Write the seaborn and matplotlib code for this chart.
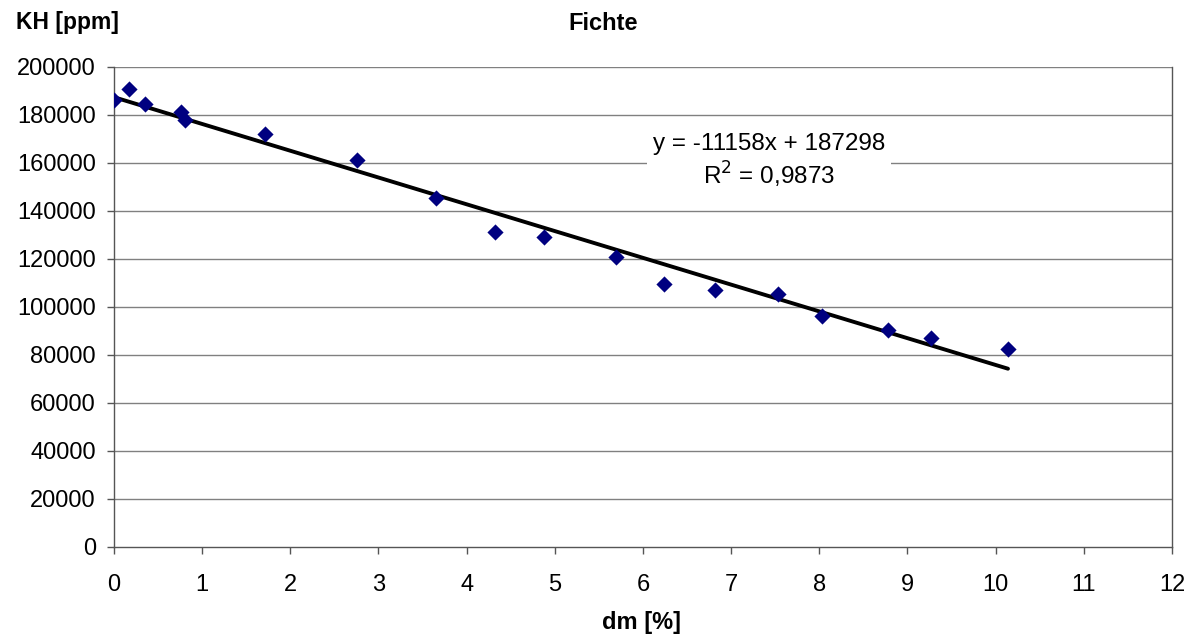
import numpy as np
import pandas as pd
import matplotlib
matplotlib.use("Agg")
import matplotlib.pyplot as plt
import seaborn as sns

##################################################
# Data
##################################################

dm = [0.0, 0.17, 0.35, 0.76, 0.81, 1.71, 2.76, 3.65, 4.32, 4.88,
      5.69, 6.24, 6.82, 7.53, 8.03, 8.78, 9.27, 10.14]
kh = [186000, 190800, 184400, 181200, 177700, 171800, 161100, 145100, 131200, 128900,
      120700, 109500, 107000, 105300, 96300, 90300, 86900, 82400]

# trendline from the chart label
slope = -11158
intercept = 187298
r2 = "0,9873"

x_ticks = list(range(0, 13))
y_ticks = list(range(0, 200001, 20000))

df = pd.DataFrame({"dm": dm, "kh": kh})

##################################################
# Plot
##################################################

sns.set_style("white")
plt.rcParams["font.family"] = ["Liberation Sans", "DejaVu Sans"]
plt.rcParams["text.color"] = "black"
plt.rcParams["xtick.labelcolor"] = "black"
plt.rcParams["ytick.labelcolor"] = "black"

fig = plt.figure(figsize=(11.92, 6.37), dpi=100)
ax = fig.add_axes([0.0956, 0.1418, 0.8876, 0.7535])

for yv in y_ticks[1:]:
    ax.axhline(yv, color="#808080", linewidth=1.0, zorder=0)

line_x = np.array([0, max(dm)])
ax.plot(line_x, slope * line_x + intercept, color="black", linewidth=2.8,
        solid_capstyle="round", zorder=2)

sns.scatterplot(data=df, x="dm", y="kh", marker="D", s=68, color="#000080",
                edgecolor="#000080", linewidth=0, ax=ax, zorder=3)

ax.set_xlim(0, 12)
ax.set_ylim(0, 200000)
ax.set_xticks(x_ticks)
ax.set_yticks(y_ticks)
ax.tick_params(axis="both", labelsize=17, length=5, width=1, color="#555555",
               direction="out", bottom=True, left=True)
ax.tick_params(axis="x", pad=15)
ax.tick_params(axis="y", pad=8)

for side in ["left", "bottom", "right"]:
    ax.spines[side].set_visible(True)
    ax.spines[side].set_color("#555555")
    ax.spines[side].set_linewidth(1.0)
ax.spines["top"].set_visible(False)

ax.set_xlabel("")
ax.set_ylabel("")

ax.text(7.43, 160600, f"y = {slope}x + {intercept}\nR$^2$ = {r2}",
        ha="center", va="center", fontsize=17.5, linespacing=1.2,
        bbox=dict(facecolor="white", edgecolor="none", pad=4), zorder=4)

fig.text(603 / 1192, 1 - 23 / 637, "Fichte", ha="center", va="center",
         fontsize=17, fontweight="bold")
fig.text(67 / 1192, 1 - 23 / 637, "KH [ppm]", ha="center", va="center",
         fontsize=16.5, fontweight="bold")
fig.text(642 / 1192, 1 - 623 / 637, "dm [%]", ha="center", va="center",
         fontsize=17, fontweight="bold")

fig.savefig("out.png", dpi=100)
plt.close()
